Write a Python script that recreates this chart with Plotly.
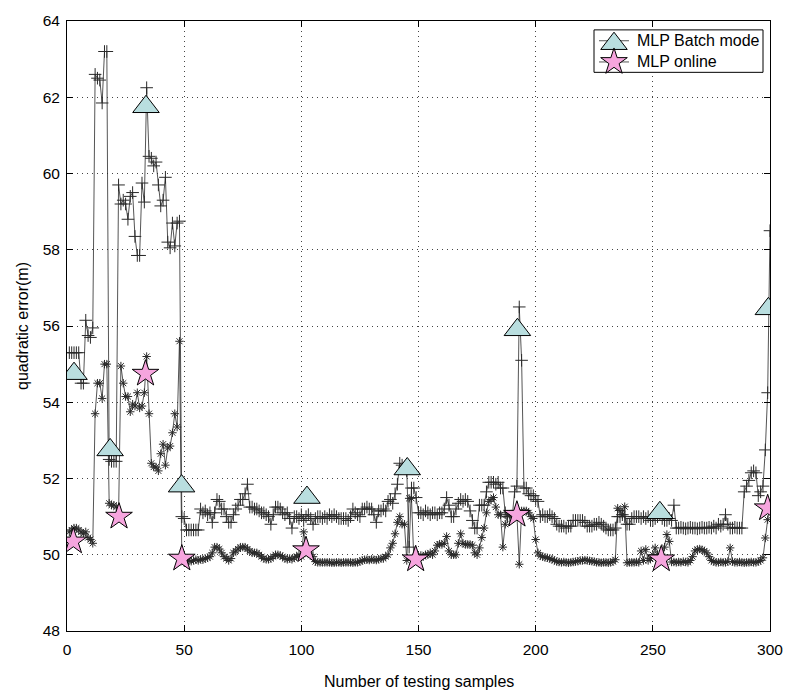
import plotly.graph_objects as go

sample_idx = list(range(1, 301))

batch_err = [
    55.3, 55.3, 55.3, 55.3, 55.3, 54.5, 54.5, 56.15, 55.75, 55.7,
    55.95, 62.6, 62.5, 62.45, 61.85, 63.2, 63.2, 52.5, 52.45, 52.45,
    52.45, 59.7, 59.2, 59.3, 59.2, 58.8, 59.4, 59.5, 58.35, 57.85,
    57.85, 59.75, 59.25, 62.25, 60.45, 60.4, 60.2, 60.3, 59.7, 59.15,
    59.3, 59.9, 58.2, 58.05, 58.7, 58.1, 58.7, 58.75, 51.0, 50.95,
    50.65, 50.65, 50.65, 50.65, 50.65, 50.65, 51.2, 51.1, 51.15, 51.05,
    51.1, 50.85, 51.1, 51.45, 51.4, 51.2, 51.2, 51.0, 50.85, 50.85,
    51.05, 51.2, 51.3, 51.45, 51.45, 51.6, 51.85, 51.25, 51.25, 51.2,
    51.2, 51.15, 51.1, 51.1, 51.05, 51.0, 50.8, 51.05, 51.25, 51.25,
    51.2, 51.1, 51.05, 51.1, 50.95, 50.7, 51.0, 51.0, 50.95, 51.05,
    50.9, 51.0, 51.05, 50.95, 50.8, 50.95, 51.0, 51.0, 50.95, 51.0,
    50.95, 51.05, 51.0, 51.05, 51.0, 50.95, 50.95, 50.95, 50.95, 50.9,
    51.0, 51.2, 51.1, 51.05, 51.0, 51.2, 51.2, 51.25, 51.2, 51.2,
    51.05, 50.85, 51.15, 51.15, 51.2, 51.15, 51.4, 51.45, 51.35, 51.6,
    51.85, 52.4, 52.35, 52.3, 52.2, 50.2, 51.75, 51.75, 51.5, 51.1,
    51.1, 51.05, 51.15, 51.1, 51.05, 51.1, 51.1, 51.05, 51.1, 51.1,
    51.2, 51.5, 51.3, 51.0, 51.0, 51.2, 51.35, 51.45, 51.4, 51.45,
    51.4, 51.15, 50.9, 50.7, 50.7, 51.3, 51.3, 51.3, 51.65, 51.9,
    51.9, 51.9, 51.85, 51.9, 51.75, 51.75, 51.1, 51.0, 51.0, 51.0,
    51.65, 51.8, 56.5, 55.1, 51.75, 51.75, 51.6, 51.55, 51.55, 51.45,
    51.4, 51.0, 51.05, 51.0, 51.0, 51.05, 51.0, 50.95, 50.8, 50.75,
    50.75, 50.75, 50.7, 50.75, 50.75, 50.9, 50.9, 50.9, 50.9, 50.9,
    50.85, 50.75, 50.75, 50.75, 50.8, 50.8, 50.85, 50.8, 50.75, 50.7,
    50.65, 50.65, 50.65, 50.7, 51.0, 51.0, 51.05, 51.0, 50.8, 50.8,
    50.95, 51.0, 51.0, 51.0, 50.95, 51.0, 50.95, 51.0, 50.9, 50.9,
    50.95, 51.0, 51.05, 50.95, 50.9, 50.9, 50.95, 50.9, 51.3, 50.7,
    50.7, 50.72, 50.7, 50.68, 50.7, 50.72, 50.7, 50.7, 50.68, 50.7,
    50.72, 50.7, 50.7, 50.72, 50.7, 50.75, 50.7, 50.8, 50.75, 50.8,
    51.05, 50.8, 50.7, 50.7, 50.72, 50.7, 50.7, 50.7, 51.65, 51.8,
    51.95, 52.15, 52.2, 52.15, 51.55, 51.65, 51.8, 52.75, 54.25, 58.5,
]

online_err = [
    50.6, 50.65, 50.7, 50.7, 50.65, 50.6, 50.55, 50.6, 50.45, 50.4,
    50.3, 53.7, 54.5, 54.5, 54.1, 55.0, 55.0, 51.35, 51.3, 51.3,
    51.25, 51.0, 54.95, 54.5, 54.15, 54.15, 53.75, 53.95, 53.9, 54.25,
    53.85, 53.9, 54.25, 55.2, 53.7, 52.4, 52.3, 52.3, 52.2, 52.65,
    52.9, 52.35, 52.8, 52.85, 53.2, 53.7, 53.35, 55.6, 49.9, 49.8,
    49.82, 49.85, 49.83, 49.85, 49.87, 49.85, 49.88, 49.87, 49.9, 49.92,
    49.95, 50.05, 50.2, 50.2, 50.15, 50.05, 49.95, 49.9, 49.85, 49.9,
    50.05, 50.1, 50.15, 50.2, 50.2, 50.2, 50.15, 50.1, 50.05, 50.05,
    50.05, 50.0, 49.95, 49.9, 49.88, 49.88, 49.9, 49.95, 50.0, 50.0,
    49.98, 49.95, 49.9, 49.88, 49.9, 49.88, 49.92, 49.95, 50.0, 49.95,
    50.6, 50.15, 50.1, 50.0, 49.95, 49.82, 49.8, 49.8, 49.8, 49.8,
    49.8, 49.8, 49.79, 49.79, 49.8, 49.8, 49.79, 49.8, 49.8, 49.8,
    49.8, 49.79, 49.8, 49.8, 49.82, 49.85, 49.87, 49.87, 49.86, 49.88,
    49.87, 49.86, 49.88, 49.9, 49.9, 49.95, 50.0, 50.18, 50.3, 50.55,
    50.85, 51.0, 50.8, 50.8, 49.85, 51.48, 51.48, 49.9, 49.95, 49.95,
    49.98, 49.95, 50.0, 50.0, 50.05, 50.0, 50.1, 50.25, 50.28, 50.27,
    50.3, 50.48, 50.1, 50.0, 50.0, 50.0, 50.3, 50.55, 50.3, 50.27,
    50.27, 50.27, 50.25, 50.05, 50.0, 50.18, 50.45, 50.7, 51.1, 51.4,
    51.45, 51.5, 51.25, 51.05, 51.05, 50.2, 50.8, 51.05, 51.05, 51.05,
    51.1, 51.05, 49.75, 51.15, 51.15, 51.15, 51.1, 51.0, 50.95, 50.4,
    50.05, 49.97, 49.95, 49.93, 49.92, 49.9, 49.88, 49.85, 49.82, 49.81,
    49.8, 49.81, 49.8, 49.79, 49.8, 49.81, 49.82, 49.83, 49.85, 49.85,
    49.86, 49.85, 49.84, 49.83, 49.82, 49.8, 49.8, 49.79, 49.8, 49.8,
    49.79, 49.8, 49.82, 49.87, 51.22, 51.16, 51.05, 51.26, 49.79, 49.8,
    49.8, 49.8, 49.81, 49.8, 50.1, 49.85, 50.14, 49.85, 49.9, 50.0,
    50.18, 50.0, 49.9, 49.95, 50.2, 50.53, 50.35, 49.81, 49.81, 49.8,
    49.81, 49.8, 49.82, 49.81, 49.8, 49.85, 49.95, 50.1, 50.14, 50.15,
    50.13, 50.1, 50.05, 49.95, 49.85, 49.82, 49.8, 49.8, 49.81, 49.8,
    49.8, 49.82, 50.18, 49.82, 49.8, 49.8, 49.81, 49.8, 49.79, 49.8,
    49.8, 49.81, 49.8, 49.8, 49.82, 49.85, 49.92, 50.44, 50.92, 51.3,
]

tri_x = [3, 18.4, 33.7, 48.9, 102.4, 145.2, 192.2, 253, 299.3]
tri_y = [54.75, 52.75, 61.75, 51.8, 51.5, 52.25, 55.9, 51.1, 56.45]
star_x = [2.7, 22.2, 33.5, 49, 102, 148.8, 192, 253.6, 299]
star_y = [50.35, 51.0, 54.75, 49.9, 50.12, 49.88, 51.05, 49.88, 51.22]

series_names = ["MLP Batch mode", "MLP online"]
tri_color = "#b9dedf"
star_color = "#f6a5de"
FONT = "Liberation Sans, Arial, Helvetica, sans-serif"
LINE_COL = "#2a2a2a"

# figure geometry (px)
W, H = 797, 697
L, R, T, B = 67, 770, 13, 631
X0, X1, Y0, Y1 = 0, 300, 48, 64


def px_x(p):
    return X0 + (p - L) / (R - L) * (X1 - X0)


def px_y(p):
    return Y0 + (B - p) / (B - T) * (Y1 - Y0)


fig = go.Figure()

fig.add_trace(go.Scatter(
    x=sample_idx, y=batch_err, mode="lines+markers",
    line=dict(color=LINE_COL, width=0.8),
    marker=dict(symbol="cross-thin-open", size=9, line=dict(color="black", width=1)),
    showlegend=False, hoverinfo="x+y"))
fig.add_trace(go.Scatter(
    x=sample_idx, y=online_err, mode="lines+markers",
    line=dict(color=LINE_COL, width=0.8),
    marker=dict(symbol="asterisk-open", size=7, line=dict(color="black", width=1)),
    showlegend=False, hoverinfo="x+y"))
fig.add_trace(go.Scatter(
    x=tri_x, y=tri_y, mode="markers", name=series_names[0],
    marker=dict(symbol="triangle-up", size=23, color=tri_color,
                line=dict(color="black", width=1)),
    showlegend=False))
fig.add_trace(go.Scatter(
    x=star_x, y=star_y, mode="markers", name=series_names[1],
    marker=dict(symbol="star", size=20, color=star_color,
                line=dict(color="black", width=1)),
    showlegend=False))

# Legend box (MATLAB style), placed in pixel terms converted to data coords
leg_left, leg_right, leg_top, leg_bot = 594, 763, 22, 65
row_y = [33, 54.5]
sym_x0, sym_x1, sym_xc, text_x = 599, 629, 614, 635

fig.add_shape(type="rect", xref="x", yref="y", x0=px_x(leg_left), x1=px_x(leg_right),
              y0=px_y(leg_top), y1=px_y(leg_bot), line=dict(color="black", width=1),
              fillcolor="white", layer="between")

for i, (nm, sym, col, sz) in enumerate(zip(series_names, ["triangle-up", "star"],
                                           [tri_color, star_color], [23, 20])):
    fig.add_trace(go.Scatter(
        x=[px_x(sym_x0), px_x(sym_x1)], y=[px_y(row_y[i]), px_y(row_y[i])], mode="lines",
        line=dict(color=LINE_COL, width=0.8), showlegend=False, hoverinfo="skip"))
    fig.add_trace(go.Scatter(
        x=[px_x(sym_xc)], y=[px_y(row_y[i] + (3 if sym == "triangle-up" else 0))],
        mode="markers",
        marker=dict(symbol=sym, size=sz, color=col, line=dict(color="black", width=1)),
        showlegend=False, hoverinfo="skip"))
    fig.add_annotation(x=px_x(text_x), y=px_y(row_y[i]), xref="x", yref="y", text=nm,
                       showarrow=False, xanchor="left", yanchor="middle",
                       font=dict(family=FONT, size=16, color="black"))

axis_common = dict(
    showline=True, linecolor="black", linewidth=1, mirror="ticks",
    ticks="inside", ticklen=6, tickcolor="black", tickwidth=1,
    showgrid=True, gridcolor="#444444", gridwidth=1, griddash="1px,4px",
    zeroline=False, tickfont=dict(family=FONT, size=15.5, color="black"),
)

fig.update_layout(
    width=W, height=H,
    margin=dict(l=L, r=W - R, t=T, b=H - B, pad=0),
    paper_bgcolor="white", plot_bgcolor="white",
    font=dict(family=FONT, size=16, color="black"),
    xaxis=dict(range=[X0, X1], tickmode="linear", tick0=0, dtick=50,
               ticklabelstandoff=4, **axis_common),
    yaxis=dict(range=[Y0, Y1], tickmode="linear", tick0=48, dtick=2,
               ticklabelstandoff=3, **axis_common),
    showlegend=False,
)

fig.add_annotation(x=0.5, y=(B - 682) / (B - T), xref="paper", yref="paper",
                   text="Number of testing samples", showarrow=False,
                   xanchor="center", yanchor="middle",
                   font=dict(family=FONT, size=16, color="black"))
fig.add_annotation(x=(22 - L) / (R - L), y=0.5, xref="paper", yref="paper",
                   text="quadratic error(m)", showarrow=False, textangle=-90,
                   xanchor="center", yanchor="middle",
                   font=dict(family=FONT, size=16, color="black"))

fig.write_html("out.html")
